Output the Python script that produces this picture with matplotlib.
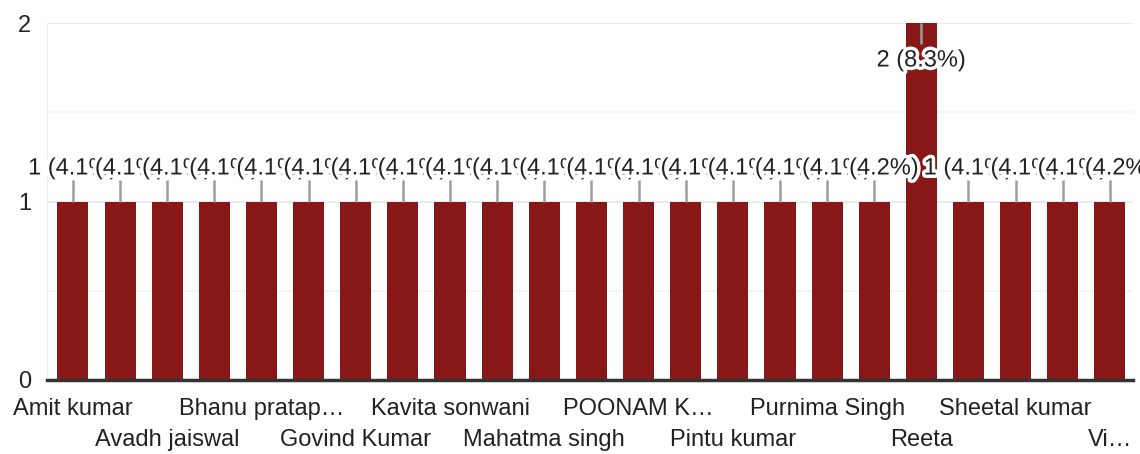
import matplotlib
matplotlib.use("Agg")
import matplotlib.pyplot as plt
import matplotlib.patheffects as pe

# ---- data ----
categories = ["Amit kumar", "", "Avadh jaiswal", "", "Bhanu pratap\u2026", "", "Govind Kumar", "",
              "Kavita sonwani", "", "Mahatma singh", "", "POONAM K\u2026", "", "Pintu kumar", "",
              "Purnima Singh", "", "Reeta", "", "Sheetal kumar", "", "Vi\u2026"]
counts = [1, 1, 1, 1, 1, 1, 1, 1, 1, 1, 1, 1, 1, 1, 1, 1, 1, 1, 2, 1, 1, 1, 1]
percents = ["4.1", "4.1", "4.1", "4.1", "4.1", "4.1", "4.1", "4.1", "4.1", "4.1", "4.1", "4.1",
            "4.1", "4.1", "4.1", "4.1", "4.1", "4.2", "8.3", "4.1", "4.1", "4.1", "4.2"]
yticks = [0, 1, 2]

plt.rcParams['font.family'] = ['Liberation Sans', 'DejaVu Sans']

BAR = "#881717"
TXT = "#222222"
FS = 17

fig = plt.figure(figsize=(11.4, 4.54), dpi=100)
ax = fig.add_axes([47/1140, 1 - 380/454, (1133-47)/1140, (380-23)/454])

x = list(range(len(categories)))
ax.bar(x, counts, width=0.66, color=BAR, zorder=2)

ax.set_xlim(-0.55, len(categories) - 0.51)
ax.set_ylim(0, 2)

# grid
for yv in [0.5, 1.5]:
    ax.axhline(yv, color="#f4f4f4", lw=1.2, zorder=0)
for yv in [1, 2]:
    ax.axhline(yv, color="#ebebeb", lw=1.5, zorder=0)
ax.axvline(-0.55, color="#ebebeb", lw=1.5, zorder=0)

for s in ["top", "right", "left"]:
    ax.spines[s].set_visible(False)
ax.spines["bottom"].set_color("#333333")
ax.spines["bottom"].set_linewidth(2.5)
ax.spines["bottom"].set_zorder(3)

ax.set_yticks(yticks)
ax.set_yticklabels([str(v) for v in yticks], fontsize=FS, color=TXT)
ax.tick_params(axis="y", length=0, pad=16)
for lbl in ax.get_yticklabels():
    lbl.set_horizontalalignment("center")

# x labels: alternate rows
xt = [i for i, c in enumerate(categories) if c]
xl = []
for k, i in enumerate(xt):
    xl.append(categories[i] if k % 2 == 0 else "\n" + categories[i])
ax.set_xticks(xt)
ax.set_xticklabels(xl, fontsize=FS, color=TXT, linespacing=1.55)
ax.tick_params(axis="x", length=0, pad=13)

# value annotations
ymax = max(counts)
halo = [pe.withStroke(linewidth=5, foreground="white")]
for i, (c, p) in enumerate(zip(counts, percents)):
    if c < ymax:
        stem_end = c + 0.12
        ty = c + 0.185
    else:
        stem_end = c - 0.12
        ty = c - 0.21
    ax.plot([i, i], [c, stem_end], color="#9e9e9e", lw=1.8, zorder=4 + i * 0.01,
            clip_on=False, solid_capstyle="butt")
    ax.text(i, ty, f"{c} ({p}%)", ha="center", va="center", fontsize=FS, color=TXT,
            path_effects=halo, zorder=5 + i * 0.01, clip_on=False)

fig.savefig("out.png", dpi=100, facecolor="white")
